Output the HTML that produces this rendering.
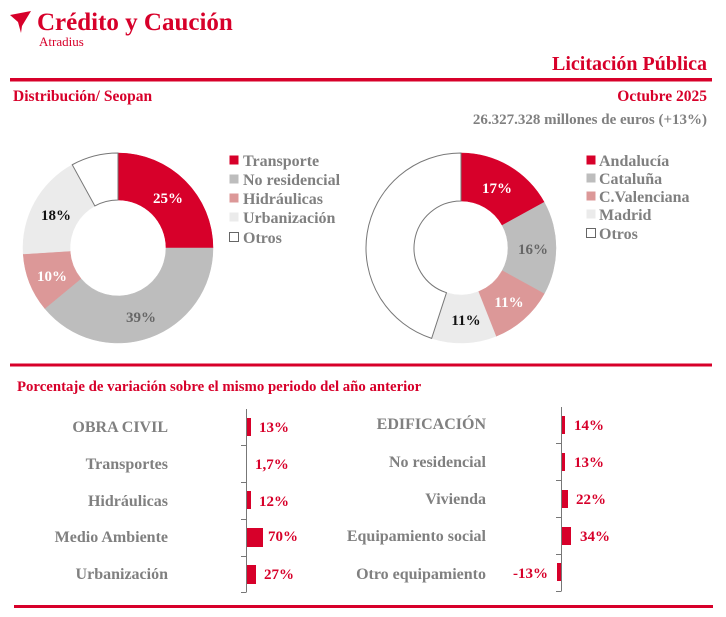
<!DOCTYPE html>
<html><head><meta charset="utf-8"><style>
body{margin:0;width:726px;height:617px;background:#fff;overflow:hidden}
svg{display:block}
text{font-family:"Liberation Serif",serif;font-weight:bold}
</style></head><body>
<svg id="s" width="726" height="617" viewBox="0 0 726 617">
<path d="M10 15 L31 11 L22 26 L21 33 L18 22 Z" fill="#d7002a"/>
<text x="37" y="30" font-size="25" fill="#d7002a">Crédito y Caución</text>
<text x="39" y="46" font-size="13" fill="#d7002a" style="font-weight:normal">Atradius</text>
<text x="707" y="70" font-size="20" fill="#d7002a" text-anchor="end">Licitación Pública</text>
<rect x="10" y="78" width="702" height="3.5" fill="#d7002a"/>
<text x="13" y="101" font-size="15.5" fill="#d7002a">Distribución/ Seopan</text>
<text x="707" y="101" font-size="15.5" fill="#d7002a" text-anchor="end">Octubre 2025</text>
<text x="707" y="124" font-size="15" fill="#808080" text-anchor="end">26.327.328 millones de euros (+13%)</text>
<g id="d1"></g><g id="d2"></g>
<g font-size="16" fill="#808080">
<rect x="229.5" y="155.5" width="9" height="9" fill="#d7002a"/><text x="243" y="166">Transporte</text>
<rect x="229.5" y="174.5" width="9" height="9" fill="#bdbdbd"/><text x="243" y="185">No residencial</text>
<rect x="229.5" y="193.5" width="9" height="9" fill="#dc9898"/><text x="243" y="204">Hidráulicas</text>
<rect x="229.5" y="212.5" width="9" height="9" fill="#ebebeb"/><text x="243" y="223">Urbanización</text>
<rect x="229.5" y="232.5" width="9" height="9" fill="#fff" stroke="#666"/><text x="243" y="243">Otros</text>
<rect x="586.5" y="155.5" width="9" height="9" fill="#d7002a"/><text x="599" y="166">Andalucía</text>
<rect x="586.5" y="173.5" width="9" height="9" fill="#bdbdbd"/><text x="599" y="184">Cataluña</text>
<rect x="586.5" y="191.5" width="9" height="9" fill="#dc9898"/><text x="599" y="202">C.Valenciana</text>
<rect x="586.5" y="209.5" width="9" height="9" fill="#ebebeb"/><text x="599" y="220">Madrid</text>
<rect x="586.5" y="228.5" width="9" height="9" fill="#fff" stroke="#666"/><text x="599" y="239">Otros</text>
</g>
<g font-size="15">
<text x="168" y="203" fill="#fff" text-anchor="middle">25%</text>
<text x="141" y="322" fill="#666" text-anchor="middle">39%</text>
<text x="52" y="281" fill="#fff" text-anchor="middle">10%</text>
<text x="56" y="220" fill="#111" text-anchor="middle">18%</text>
<text x="497" y="193" fill="#fff" text-anchor="middle">17%</text>
<text x="533" y="254" fill="#666" text-anchor="middle">16%</text>
<text x="509" y="307" fill="#fff" text-anchor="middle">11%</text>
<text x="466" y="325" fill="#111" text-anchor="middle">11%</text>
</g>
<rect x="10" y="363.5" width="702" height="3" fill="#d7002a"/>
<text x="17" y="391" font-size="14.8" fill="#d7002a">Porcentaje de variación sobre el mismo periodo del año anterior</text>
<g fill="#808080" font-size="16" text-anchor="end">
<text x="168" y="432">OBRA CIVIL</text>
<text x="168" y="469">Transportes</text>
<text x="168" y="506">Hidráulicas</text>
<text x="168" y="542">Medio Ambiente</text>
<text x="168" y="579">Urbanización</text>
<text x="486" y="429">EDIFICACIÓN</text>
<text x="486" y="467">No residencial</text>
<text x="486" y="504">Vivienda</text>
<text x="486" y="541">Equipamiento social</text>
<text x="486" y="579">Otro equipamiento</text>
</g>
<g stroke="#777" stroke-width="1">
<line x1="246.5" y1="409" x2="246.5" y2="592"/>
<line x1="241" y1="445.5" x2="246.5" y2="445.5"/><line x1="241" y1="482.5" x2="246.5" y2="482.5"/><line x1="241" y1="519.5" x2="246.5" y2="519.5"/><line x1="241" y1="556.5" x2="246.5" y2="556.5"/><line x1="241" y1="592.5" x2="246.5" y2="592.5"/>
<line x1="561.5" y1="407" x2="561.5" y2="591"/>
<line x1="556" y1="443.5" x2="561.5" y2="443.5"/><line x1="556" y1="480.5" x2="561.5" y2="480.5"/><line x1="556" y1="517.5" x2="561.5" y2="517.5"/><line x1="556" y1="554.5" x2="561.5" y2="554.5"/><line x1="556" y1="591.5" x2="561.5" y2="591.5"/>
</g>
<g fill="#d7002a">
<rect x="247" y="418" width="4" height="18"/>
<rect x="247" y="491" width="4" height="18"/>
<rect x="247" y="528" width="16" height="19"/>
<rect x="247" y="565" width="9" height="19"/>
<rect x="562" y="416" width="3" height="18"/>
<rect x="562" y="453" width="3" height="18"/>
<rect x="562" y="490" width="6" height="18"/>
<rect x="562" y="527" width="9" height="18"/>
<rect x="557" y="563" width="4" height="18"/>
</g>
<g fill="#d7002a" font-size="15">
<text x="259" y="432">13%</text>
<text x="255" y="469">1,7%</text>
<text x="259" y="506">12%</text>
<text x="268" y="541">70%</text>
<text x="264" y="579">27%</text>
<text x="574" y="430">14%</text>
<text x="574" y="467">13%</text>
<text x="576" y="504">22%</text>
<text x="580" y="541">34%</text>
<text x="548" y="578" text-anchor="end">-13%</text>
</g>
<rect x="14" y="605" width="699" height="3" fill="#d7002a"/>
</svg>
<script>
function donut(gid,cx,cy,R,r,vals,cols){
 var g=document.getElementById(gid),a=0,tot=vals.reduce((x,y)=>x+y,0),h='';
 for(var i=0;i<vals.length;i++){
  var a0=a,a1=a+vals[i]/tot*2*Math.PI;a=a1;
  var p=(t,rr)=>[(cx+rr*Math.sin(t)).toFixed(2),(cy-rr*Math.cos(t)).toFixed(2)];
  var L=(a1-a0)>Math.PI?1:0,o0=p(a0,R),o1=p(a1,R),i1=p(a1,r),i0=p(a0,r);
  var st=cols[i]=='#fff'?' stroke="#777" stroke-width="1"':' stroke="'+cols[i]+'" stroke-width="0.5"';
  h+='<path d="M'+o0+' A'+R+' '+R+' 0 '+L+' 1 '+o1+' L'+i1+' A'+r+' '+r+' 0 '+L+' 0 '+i0+' Z" fill="'+cols[i]+'"'+st+'/>';
 }
 g.innerHTML=h;
}
var C=['#d7002a','#bdbdbd','#dc9898','#ebebeb','#fff'];
donut('d1',118,248,95,48,[25,39,10,18,8],C);
donut('d2',461,248,95,47,[17,16,11,11,45],C);
</script>
</body></html>
